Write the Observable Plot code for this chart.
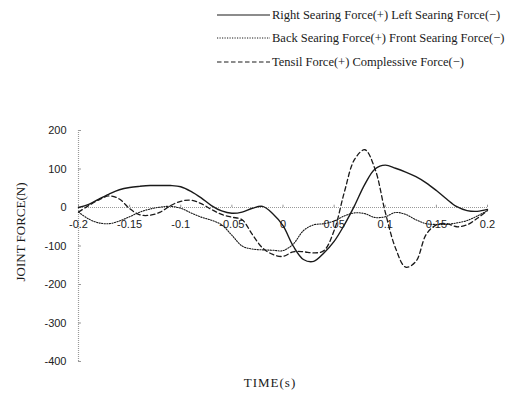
<!DOCTYPE html>
<html>
<head>
<meta charset="utf-8">
<script src="https://cdn.jsdelivr.net/npm/d3@7"></script>
<script src="https://cdn.jsdelivr.net/npm/@observablehq/plot@0.6"></script>
<style>
  body { margin: 0; background: #fff; }
  #wrap { position: relative; width: 507px; height: 393px; overflow: hidden; color: #1a1a1a; font-family: "Liberation Serif", "DejaVu Serif", serif; }
  #chart { position: absolute; left: 0; top: 0; }
  .row { position: absolute; left: 217px; height: 16px; display: flex; align-items: center; font-size: 12.5px; white-space: nowrap; }
  .row svg { display: block; margin-right: 2px; }
  #ytitle { position: absolute; left: 21px; top: 232px; transform: translate(-50%, -50%) rotate(-90deg); font-size: 13px; white-space: nowrap; }
  #xtitle { position: absolute; left: 270px; top: 383px; transform: translate(-50%, -50%); font-size: 13px; letter-spacing: 1px; white-space: nowrap; }
</style>
</head>
<body>
<div id="wrap">
  <div id="chart"></div>
  <div id="legend"></div>
  <div id="ytitle">JOINT FORCE(N)</div>
  <div id="xtitle">TIME(s)</div>
</div>
<script>
// ---- data ----
const time = [-0.2,-0.19,-0.18,-0.17,-0.16,-0.15,-0.14,-0.13,-0.12,-0.11,-0.1,-0.09,-0.08,-0.07,-0.06,-0.05,-0.04,-0.03,-0.02,-0.01,0,0.01,0.02,0.03,0.04,0.05,0.06,0.07,0.08,0.09,0.1,0.11,0.12,0.13,0.14,0.15,0.16,0.17,0.18,0.19,0.2];
const rightLeft = [0,8,22,35,46,52,55,57,57,57,54,42,25,5,-9,-15,-12,-2,3,-16,-47,-100,-135,-140,-118,-88,-45,5,60,100,110,102,92,80,64,44,22,2,-8,-10,-5];
const backFront = [-12,-30,-40,-42,-35,-24,-12,-4,1,3,-2,-14,-25,-33,-45,-72,-100,-108,-110,-111,-112,-95,-60,-45,-42,-35,-22,-14,-16,-26,-24,-13,-18,-32,-42,-44,-44,-40,-34,-22,-8];
const tensilComp = [-12,5,20,30,22,-3,-19,-20,-12,5,16,19,10,-5,-18,-25,-32,-70,-105,-122,-127,-115,-115,-118,-112,-60,40,125,150,100,-12,-105,-155,-140,-70,-45,-42,-50,-45,-28,-8];
const seriesNames = ["Right Searing Force(+) Left Searing Force(\u2212)", "Back Searing Force(+) Front Searing Force(\u2212)", "Tensil Force(+) Complessive Force(\u2212)"];
const xTicks = [-0.2,-0.15,-0.1,-0.05,0,0.05,0.1,0.15,0.2];
const yTicks = [200,100,0,-100,-200,-300,-400];
const xDomain = [-0.2, 0.2];
const yDomain = [-400, 200];

const allValues = [rightLeft, backFront, tensilComp];
const styles = [
  {strokeWidth: 1.4, dash: null},
  {strokeWidth: 1.1, dash: "1.2,1.4"},
  {strokeWidth: 1.3, dash: "4.5,3"}
];
const rows = [];
seriesNames.forEach((s, i) => time.forEach((t, j) => rows.push({series: s, time: t, value: allValues[i][j]})));

const ink = "#1a1a1a";
const axisGray = "#999";

const marks = [
  Plot.ruleY([0], {stroke: axisGray, strokeWidth: 1.2, strokeDasharray: "1,1"}),
  Plot.ruleX([xDomain[0]], {stroke: axisGray, strokeWidth: 1.2, strokeDasharray: "1,1"}),
  Plot.ruleY(yTicks, {y: d => d, stroke: axisGray, insetRight: 406}),
  Plot.ruleX(xTicks, {x: d => d, y1: 0, y2: 6, stroke: axisGray}),
  Plot.text(xTicks, {x: d => d, y: 0, dy: 17, text: d => String(d), fill: "#222", fontSize: 11}),
  Plot.text(yTicks, {y: d => d, frameAnchor: "left", dx: -12, textAnchor: "end", text: d => String(d), fill: "#222", fontSize: 11})
];
seriesNames.forEach((s, i) => {
  marks.push(Plot.line(rows.filter(r => r.series === s), {
    x: "time", y: "value", curve: "catmull-rom",
    stroke: ink, strokeWidth: styles[i].strokeWidth,
    strokeDasharray: styles[i].dash
  }));
});

const chart = Plot.plot({
  width: 507, height: 393,
  marginTop: 130, marginBottom: 32, marginLeft: 78, marginRight: 20,
  x: {domain: xDomain, axis: null},
  y: {domain: yDomain, axis: null},
  style: {fontFamily: "'Liberation Sans', Arial, sans-serif", background: "transparent"},
  marks
});
document.getElementById("chart").appendChild(chart);

// legend
const legendTops = [7, 30, 54];
const legend = document.getElementById("legend");
seriesNames.forEach((s, i) => {
  const row = document.createElement("div");
  row.className = "row";
  row.style.top = legendTops[i] + "px";
  const dash = styles[i].dash ? ` stroke-dasharray="${i === 1 ? "1.2,1.3" : "4.5,2.5"}"` : "";
  row.innerHTML = `<svg width="53" height="6"><line x1="0" y1="3" x2="53" y2="3" stroke="${ink}" stroke-width="${i === 1 ? 1 : 1.1}"${dash}/></svg><span>${s}</span>`;
  legend.appendChild(row);
});
</script>
</body>
</html>
